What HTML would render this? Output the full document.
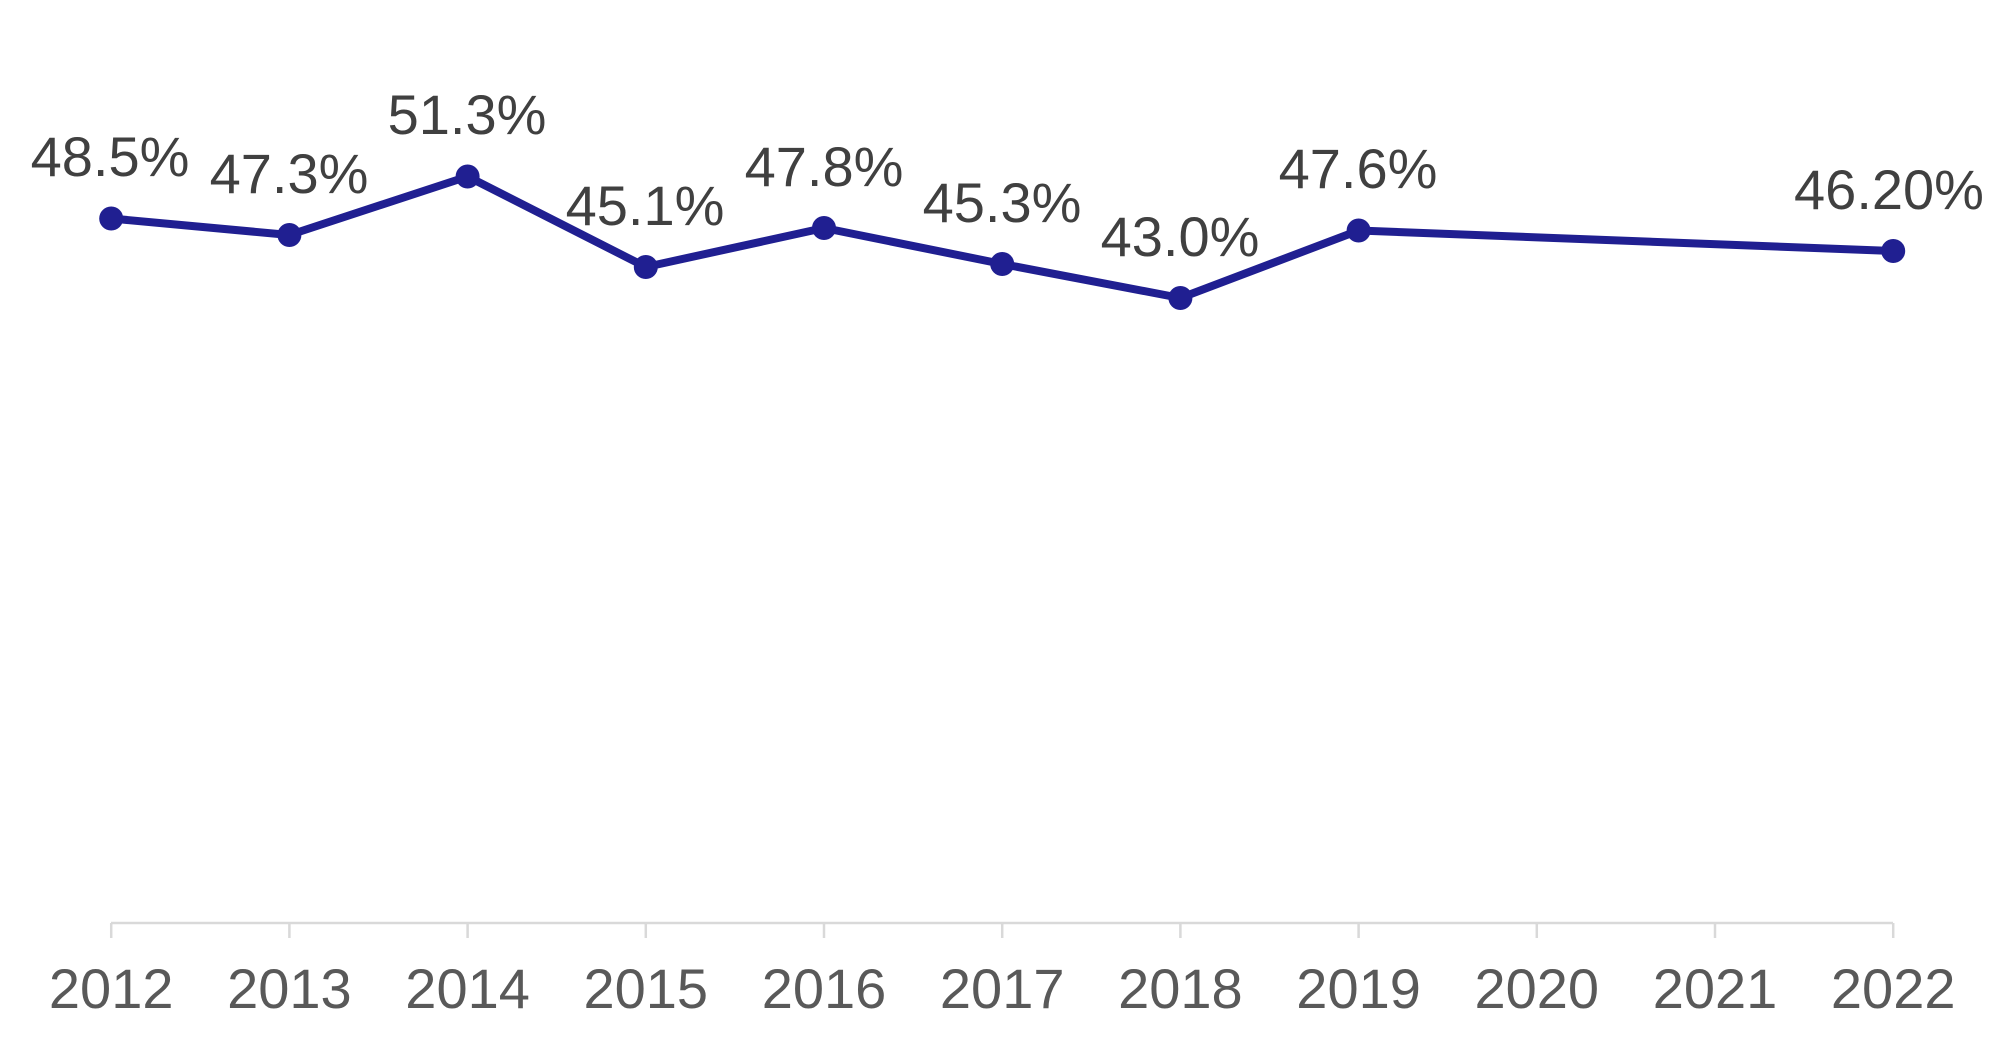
<!DOCTYPE html>
<html><head><style>html,body{margin:0;padding:0;background:#fff}</style></head><body>
<svg width="2004" height="1048" xmlns="http://www.w3.org/2000/svg" font-family="Liberation Sans, Arial, sans-serif">
<g stroke="#d9d9d9" stroke-width="2.5" fill="none">
<line x1="111" y1="923" x2="1893" y2="923"/>
<line x1="111.2" y1="923" x2="111.2" y2="938"/>
<line x1="289.4" y1="923" x2="289.4" y2="938"/>
<line x1="467.6" y1="923" x2="467.6" y2="938"/>
<line x1="645.8" y1="923" x2="645.8" y2="938"/>
<line x1="824" y1="923" x2="824" y2="938"/>
<line x1="1002.2" y1="923" x2="1002.2" y2="938"/>
<line x1="1180.4" y1="923" x2="1180.4" y2="938"/>
<line x1="1358.6" y1="923" x2="1358.6" y2="938"/>
<line x1="1536.8" y1="923" x2="1536.8" y2="938"/>
<line x1="1715" y1="923" x2="1715" y2="938"/>
<line x1="1893.2" y1="923" x2="1893.2" y2="938"/>
</g>
<g fill="#595959" font-size="56" text-anchor="middle">
<text x="111.2" y="1008">2012</text><text x="289.4" y="1008">2013</text><text x="467.6" y="1008">2014</text>
<text x="645.8" y="1008">2015</text><text x="824" y="1008">2016</text><text x="1002.2" y="1008">2017</text>
<text x="1180.4" y="1008">2018</text><text x="1358.6" y="1008">2019</text><text x="1536.8" y="1008">2020</text>
<text x="1715" y="1008">2021</text><text x="1893.2" y="1008">2022</text>
</g>
<polyline fill="none" stroke="#201f91" stroke-width="8" stroke-linejoin="round" points="111.2,218.5 289.4,235 467.6,176.5 645.8,267 824,228 1002.2,264 1180.4,298 1358.6,230.5 1893.2,251"/>
<g fill="#201f91">
<circle cx="111.2" cy="218.5" r="12"/><circle cx="289.4" cy="235" r="12"/><circle cx="467.6" cy="176.5" r="12"/>
<circle cx="645.8" cy="267" r="12"/><circle cx="824" cy="228" r="12"/><circle cx="1002.2" cy="264" r="12"/>
<circle cx="1180.4" cy="298" r="12"/><circle cx="1358.6" cy="230.5" r="12"/><circle cx="1893.2" cy="251" r="12"/>
</g>
<g fill="#404040" font-size="56" text-anchor="middle">
<text x="110" y="176">48.5%</text><text x="289" y="193">47.3%</text><text x="467" y="134">51.3%</text>
<text x="645" y="225">45.1%</text><text x="824" y="186">47.8%</text><text x="1002" y="222">45.3%</text>
<text x="1180" y="256">43.0%</text><text x="1358" y="188">47.6%</text><text x="1889" y="209">46.20%</text>
</g>
</svg>
</body></html>
